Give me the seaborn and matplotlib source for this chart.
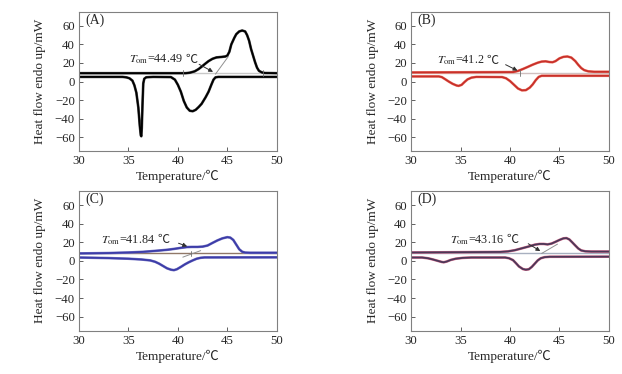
import pandas as pd
import matplotlib
matplotlib.use('Agg')
import matplotlib.pyplot as plt
import seaborn as sns

# --- data (temperature in C, heat flow in mW) ---
# panel A
a_heat_t = [30, 40.8, 41.2, 41.7, 42.1, 42.4, 42.8, 43.1, 43.5, 43.9, 44.4, 44.8, 45.0, 45.2, 45.4, 45.7,
            45.9, 46.2, 46.5, 46.8, 47.0, 47.2, 47.4, 47.6, 47.8, 48.0, 48.2, 48.5, 48.8, 50]
a_heat_q = [9, 9, 9.5, 11, 13.5, 16, 19.5, 22, 24.5, 26, 26.5, 27, 28, 32, 40, 47,
            51, 54, 55, 54, 50, 44, 35, 28, 21, 15, 11.5, 9.8, 9.2, 9]
a_cool_t = [30, 34.4, 34.8, 35.1, 35.4, 35.6, 35.8, 36.0, 36.15, 36.25, 36.3, 36.35, 36.42, 36.5, 36.6,
            36.8, 37.5, 39.3, 39.7, 40.0, 40.3, 40.6, 40.9, 41.2, 41.5, 41.8, 42.1, 42.4, 42.8, 43.1,
            43.4, 43.6, 43.8, 44.1, 50]
a_cool_q = [5, 5, 4.5, 3.5, 1, -4, -12, -28, -48, -58, -59, -50, -25, -2, 3,
            4.6, 5, 4.8, 2, -3.6, -11, -21, -28, -31.5, -32, -30.5, -27.5, -24, -17, -11,
            -3, 2, 4.5, 5, 5]
a_base_t = [40.5, 49]
a_base_q = [9, 9]
a_tan_t = [43.8, 45.1]
a_tan_q = [8, 27]
a_marks = [40.5, 48.6]

# panel B
b_heat_t = [30, 40.3, 40.8, 41.3, 41.8, 42.3, 42.8, 43.2, 43.6, 44.0, 44.3, 44.6, 45.0, 45.4, 45.8,
            46.2, 46.6, 46.9, 47.2, 47.5, 47.9, 48.5, 50]
b_heat_q = [9.8, 10.2, 11.4, 13.5, 15.8, 18.2, 20.3, 21.5, 21.8, 21, 20.8, 22, 25, 26.6, 27,
            25.8, 22, 18, 14.5, 12.3, 11, 10.5, 10.5]
b_cool_t = [30, 32.8, 33.1, 33.4, 33.8, 34.2, 34.6, 34.8, 35.1, 35.4, 35.7, 36.1, 36.6, 39.2, 39.6,
            40.0, 40.4, 40.8, 41.2, 41.6, 42.0, 42.3, 42.6, 42.9, 43.2, 50]
b_cool_q = [5.5, 5.5, 4.8, 2.8, 0, -2.5, -4.3, -4.7, -3.6, -0.5, 2.3, 4.2, 5, 4.8, 3.5,
            0.5, -3.5, -7.5, -9.5, -9.3, -6.5, -3, 1.5, 5, 6.2, 6.2]
b_base_t = [30, 50]
b_base_q = [9, 9]
b_marks = [41.0]

# panel C
c_heat_t = [30, 33, 35, 36.5, 38, 39, 39.7, 40.3, 40.9, 41.4, 42.0, 42.5, 43.0, 43.5, 44.0, 44.5,
            45.0, 45.3, 45.6, 45.9, 46.2, 46.5, 46.8, 47.3, 50]
c_heat_q = [8, 8.4, 9, 9.7, 11, 12, 13, 14, 14.8, 15, 15, 15.3, 16.5, 19.3, 22, 24.2,
            25.5, 25, 22.5, 17.5, 12.5, 9.8, 8.9, 8.7, 8.7]
c_cool_t = [30, 33, 35, 36.3, 37.2, 37.7, 38.1, 38.5, 38.9, 39.3, 39.6, 39.9, 40.3, 40.7, 41.1,
            41.5, 41.9, 42.3, 42.7, 50]
c_cool_q = [3.6, 3, 2.3, 1.5, 0.5, -1, -3, -5.5, -8, -9.5, -10, -9, -6.5, -3.8, -1.5,
            0.5, 2.3, 3.3, 3.7, 3.8]
c_base_t = [30, 50]
c_base_q = [8, 8]
c_tan_t = [40.5, 42.3]
c_tan_q = [4, 11]
c_marks = [41.3]

# panel D
d_heat_t = [30, 39, 39.8, 40.5, 41.2, 41.9, 42.5, 43.0, 43.4, 43.8, 44.2, 44.6, 45.0, 45.4, 45.7,
            46.0, 46.3, 46.6, 46.9, 47.2, 47.6, 48.2, 50]
d_heat_q = [9, 9.6, 10.2, 11.5, 13.5, 15.5, 17.4, 18.2, 18.2, 17.7, 18.6, 20.5, 22.5, 24.2, 24.5,
            23, 19.8, 16.5, 13.3, 11.2, 10.3, 10, 10]
d_cool_t = [30, 31.1, 31.7, 32.2, 32.7, 33.1, 33.3, 33.6, 34.0, 34.5, 35.2, 36.1, 39.5, 39.9, 40.3,
            40.6, 40.9, 41.3, 41.6, 41.9, 42.2, 42.5, 42.8, 43.1, 43.5, 44, 50]
d_cool_q = [3.6, 3.6, 2.8, 1.5, 0, -1.2, -1.5, -0.7, 1, 2.3, 3.2, 3.6, 3.6, 2.8, 0.8,
            -2.5, -6, -8.8, -9.5, -9, -6.5, -3, 0.5, 2.8, 4, 4.4, 4.5]
d_base_t = [30, 50]
d_base_q = [8.7, 8.7]
d_tan_t = [43.2, 44.8]
d_tan_q = [8, 18]
d_marks = []

labels = ['(A)', '(B)', '(C)', '(D)']
onsets = ['44.49', '41.2', '41.84', '43.16']

sns.set_theme(style='white')
plt.rcParams['font.family'] = ['Liberation Serif', 'DejaVu Serif']
plt.rcParams['mathtext.fontset'] = 'stix'
plt.rcParams['axes.edgecolor'] = '#808080'
plt.rcParams['axes.linewidth'] = 0.8
deg_font = ['Liberation Serif', 'Noto Sans CJK SC']

fig = plt.figure(figsize=(6.22, 3.74), dpi=100)
boxes = [[0.127, 0.596, 0.318, 0.372], [0.661, 0.596, 0.318, 0.372],
         [0.127, 0.116, 0.318, 0.373], [0.661, 0.116, 0.318, 0.373]]

panels = [
    (a_heat_t, a_heat_q, a_cool_t, a_cool_q, a_base_t, a_base_q, a_tan_t, a_tan_q, a_marks, 'black', '#505050'),
    (b_heat_t, b_heat_q, b_cool_t, b_cool_q, b_base_t, b_base_q, None, None, b_marks, '#c8302a', '#f08878'),
    (c_heat_t, c_heat_q, c_cool_t, c_cool_q, c_base_t, c_base_q, c_tan_t, c_tan_q, c_marks, '#3c3ca8', '#8080c8'),
    (d_heat_t, d_heat_q, d_cool_t, d_cool_q, d_base_t, d_base_q, d_tan_t, d_tan_q, d_marks, '#4c3858', '#d87090'),
]
base_cols = ['#c8c8c8', '#d0c0c0', '#907868', '#a8b0c0']
# text anchor (left, y), arrow tail and arrow head for each panel
txt_pos = [(35.1, 23.5), (32.6, 22.5), (32.2, 22), (33.9, 22)]
arrow_from = [(41.9, 20), (39.3, 19.5), (39.8, 20), (41.6, 20)]
arrow_to = [(43.8, 9), (41.0, 10.5), (41.2, 14.5), (43.3, 9)]

for i, (ht, hq, ct, cq, bt, bq, tt, tq, marks, col, edge) in enumerate(panels):
    ax = fig.add_axes(boxes[i])
    heat = pd.DataFrame({'T': ht, 'Q': hq})
    cool = pd.DataFrame({'T': ct, 'Q': cq})
    base = pd.DataFrame({'T': bt, 'Q': bq})
    sns.lineplot(data=base, x='T', y='Q', ax=ax, color=base_cols[i], lw=1.0, estimator=None, sort=False)
    for df in (heat, cool):
        sns.lineplot(data=df, x='T', y='Q', ax=ax, color=edge, lw=1.9, estimator=None, sort=False)
        sns.lineplot(data=df, x='T', y='Q', ax=ax, color=col, lw=1.3, estimator=None, sort=False)
    if tt is not None:
        ax.plot(tt, tq, color='#909090', lw=0.7)
    for m in marks:
        ax.plot([m, m], [bq[0] - 2.5, bq[0] + 3], color='#707070', lw=0.6)
    ax.annotate('', xy=arrow_to[i], xytext=arrow_from[i],
                arrowprops=dict(arrowstyle='-|>', color='#303030', lw=0.7, mutation_scale=6))
    t1 = ax.text(txt_pos[i][0], txt_pos[i][1], r'$T_{\rm om}$=' + onsets[i],
                 fontsize=8.7, va='center', ha='left')
    ax.annotate(' ℃', xy=(1, 0.5), xycoords=t1, va='center', ha='left', fontsize=8.7,
                family=deg_font)
    ax.text(30.6, 66, labels[i], fontsize=10, va='center', ha='left')
    ax.set_xlim(30, 50)
    ax.set_ylim(-75, 75)
    ax.set_xticks([30, 35, 40, 45, 50])
    ax.set_yticks([-60, -40, -20, 0, 20, 40, 60])
    ax.set_yticklabels(['\u221260', '\u221240', '\u221220', '0', '20', '40', '60'])
    ax.tick_params(direction='in', length=3, width=0.7, color='#606060', labelsize=9.2, pad=3,
                   bottom=True, left=True)
    ax.set_xlabel('Temperature/℃', fontsize=9.5, labelpad=2, family=deg_font)
    ax.set_ylabel('Heat flow endo up/mW', fontsize=9.5, labelpad=6)

fig.savefig('out.png', dpi=100)
